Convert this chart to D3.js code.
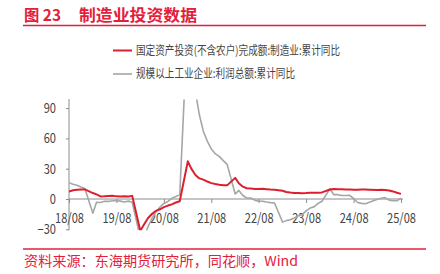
<!DOCTYPE html>
<html><head><meta charset="utf-8">
<script src="https://cdn.jsdelivr.net/npm/d3@7"></script>
<style>
html,body{margin:0;padding:0;background:#fff;}
svg{display:block;font-family:"Noto Sans CJK SC","Microsoft YaHei",sans-serif;}
</style></head>
<body>
<svg id="c" width="440" height="274"></svg>
<script>
const months = [
"2018-08","2018-09","2018-10","2018-11","2018-12",
"2019-02","2019-03","2019-04","2019-05","2019-06","2019-07","2019-08","2019-09","2019-10","2019-11","2019-12",
"2020-02","2020-03","2020-04","2020-05","2020-06","2020-07","2020-08","2020-09","2020-10","2020-11","2020-12",
"2021-02","2021-03","2021-04","2021-05","2021-06","2021-07","2021-08","2021-09","2021-10","2021-11","2021-12",
"2022-02","2022-03","2022-04","2022-05","2022-06","2022-07","2022-08","2022-09","2022-10","2022-11","2022-12",
"2023-02","2023-03","2023-04","2023-05","2023-06","2023-07","2023-08","2023-09","2023-10","2023-11","2023-12",
"2024-02","2024-03","2024-04","2024-05","2024-06","2024-07","2024-08","2024-09","2024-10","2024-11","2024-12",
"2025-02","2025-03","2025-04","2025-05","2025-06","2025-07","2025-08"];

const manufacturingFAI = [
7.5,8.7,9.1,9.5,9.5,
5.9,4.6,2.5,2.7,3.0,3.3,2.6,2.5,2.6,2.5,3.1,
-31.5,-25.2,-18.8,-14.8,-11.7,-10.2,-8.1,-6.5,-5.3,-3.5,-2.2,
37.3,29.8,23.8,20.4,19.2,17.3,15.7,14.8,14.2,13.7,13.5,
20.9,15.6,12.2,10.6,10.4,9.9,10.0,10.1,9.7,9.3,9.1,
8.1,7.0,6.4,6.0,6.0,5.7,5.9,6.2,6.2,6.3,6.5,
9.4,9.9,9.7,9.6,9.5,9.3,9.1,9.2,9.3,9.3,9.2,
9.0,9.1,8.8,8.5,7.5,6.2,5.1];

const industrialProfit = [
16.2,14.7,13.6,11.8,10.3,
-14.0,-3.3,-3.4,-2.3,-2.4,-1.7,-1.7,-2.1,-2.9,-2.1,-3.3,
-38.3,-36.7,-27.4,-19.3,-12.8,-8.1,-4.4,-2.4,0.7,2.4,4.1,
178.9,137.3,106.0,83.4,66.9,57.3,49.5,44.7,42.2,38.0,34.3,
5.0,8.5,3.5,1.0,1.0,-1.1,-2.1,-2.3,-3.0,-3.6,-4.0,
-22.9,-21.4,-20.6,-18.8,-16.8,-15.5,-11.7,-9.0,-7.8,-4.4,-2.3,
10.2,4.3,4.3,3.4,3.5,3.6,0.5,-3.5,-4.3,-4.7,-3.3,
-0.3,0.8,1.4,-1.1,-1.8,-1.7,0.9];

const xTickLabels = ["18/08","19/08","20/08","21/08","22/08","23/08","24/08","25/08"];
const yTicks = [-30,0,30,60,90];
const seriesNames = ["国定资产投资(不含农户)完成额:制造业:累计同比","规模以上工业企业:利润总额:累计同比"];
const titleNum = "图 23";
const titleText = "制造业投资数据";
const sourceText = "资料来源：东海期货研究所，同花顺，Wind";

const RED = "#dc1f2e", GRAY = "#a6a6a6", TITLE_RED = "#e3203a", AXIS = "#8c8c8c", TXT = "#444";

const svg = d3.select("#c");
svg.append("rect").attr("width",440).attr("height",274).attr("fill","#fff");

function fit(sel, w){ sel.attr("textLength", w).attr("lengthAdjust","spacingAndGlyphs"); }
function squeeze(sel, f){ sel.each(function(){ const L=this.getComputedTextLength(); d3.select(this).attr("textLength", L*f).attr("lengthAdjust","spacingAndGlyphs"); }); }

// Title
svg.append("text").attr("x",24).attr("y",21).attr("fill",TITLE_RED).attr("font-size",16).attr("font-weight","bold").text(titleNum).call(fit,37);
svg.append("text").attr("x",79).attr("y",21).attr("fill",TITLE_RED).attr("font-size",16).attr("font-weight","bold").text(titleText).call(fit,118);
svg.append("line").attr("x1",23).attr("x2",426).attr("y1",25.5).attr("y2",25.5).attr("stroke",TITLE_RED).attr("stroke-width",1.5);

// Footer
svg.append("line").attr("x1",23).attr("x2",426).attr("y1",249).attr("y2",249).attr("stroke",TITLE_RED).attr("stroke-width",1.5);
svg.append("text").attr("x",24).attr("y",266).attr("fill",TITLE_RED).attr("font-size",13.5).text(sourceText).call(fit,274);

// Legend
const legend = [{name:seriesNames[0],color:RED,y:50.5,w:204,sw:2},{name:seriesNames[1],color:GRAY,y:74,w:159,sw:1.6}];
legend.forEach(l=>{
  svg.append("line").attr("x1",113).attr("x2",132).attr("y1",l.y).attr("y2",l.y).attr("stroke",l.color).attr("stroke-width",l.sw);
  svg.append("text").attr("x",136).attr("y",l.y+4.2).attr("fill",TXT).attr("font-size",12).text(l.name).call(fit,l.w);
});

// Scales
const parse = d3.timeParse("%Y-%m");
const dates = months.map(parse);
const x = d3.scaleTime().domain([parse("2018-08"), parse("2025-08")]).range([69,401]);
const y = d3.scaleLinear().domain([-30,100]).range([229.3,98]);

// Y axis
const yAxis = svg.append("g").attr("transform","translate(69,0)")
  .call(d3.axisLeft(y).tickValues(yTicks).tickSize(3).tickPadding(10).tickFormat(d3.format("d")));
yAxis.select(".domain").attr("stroke",AXIS).attr("d",`M0,${y(-30)+1}V${y(100)+1}`);
yAxis.selectAll(".tick line").attr("stroke",AXIS);
yAxis.selectAll(".tick text").attr("fill",TXT).attr("font-size",13.5).attr("font-family","Noto Sans CJK SC").call(squeeze,0.82);

// X axis at zero
const xTicks = xTickLabels.map(s=>parse("20"+s.slice(0,2)+"-"+s.slice(3)));
const xAxis = svg.append("g").attr("transform",`translate(0,${y(0)})`)
  .call(d3.axisBottom(x).tickValues(xTicks).tickSize(4).tickPadding(10).tickFormat((d,i)=>xTickLabels[i]));
xAxis.select(".domain").attr("stroke",AXIS).attr("d",`M69,0H403`);
xAxis.selectAll(".tick line").attr("stroke",AXIS);
xAxis.selectAll(".tick text").attr("fill",TXT).attr("font-size",13.5).attr("font-family","Noto Sans CJK SC").call(squeeze,0.82);

// Clip
svg.append("defs").append("clipPath").attr("id","clip").append("rect")
  .attr("x",69).attr("y",y(100)+1.5).attr("width",340).attr("height",y(-30)-y(100)-0.5);

const line = d3.line().x((d,i)=>x(dates[i])).y(d=>y(d));
const plot = svg.append("g").attr("clip-path","url(#clip)");
plot.append("path").datum(industrialProfit).attr("d",line).attr("fill","none").attr("stroke",GRAY).attr("stroke-width",1.6).attr("stroke-linejoin","round");
plot.append("path").datum(manufacturingFAI).attr("d",line).attr("fill","none").attr("stroke",RED).attr("stroke-width",2).attr("stroke-linejoin","round");
</script>
</body></html>
